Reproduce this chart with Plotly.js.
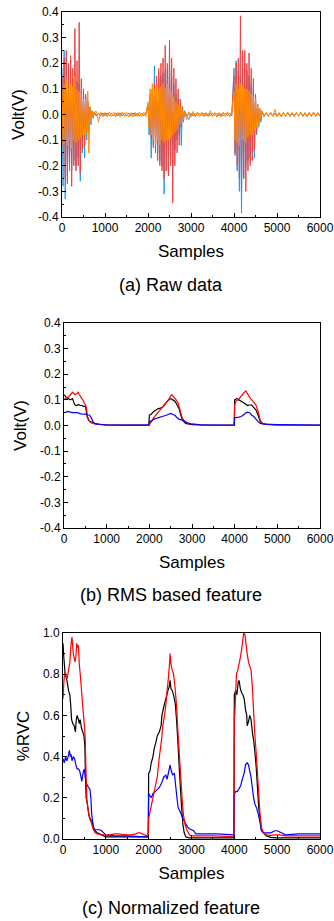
<!DOCTYPE html>
<html>
<head>
<meta charset="utf-8">
<script src="https://cdn.plot.ly/plotly-3.0.1.min.js"></script>
<style>html,body{margin:0;padding:0;background:#fff;}#chart{width:334px;height:921px;}</style>
</head>
<body>
<div id="chart"></div>
<script>
// ---------- (a) Raw data ----------
const rawX = [
  0,25,50,75,100,125,150,175,200,225,250,275,300,325,350,375,400,425,450,475,500,525,550,575,600,625,650,675,700,725,750,
  800,850,900,950,1000,1050,1100,1150,1200,1250,1300,1350,1400,1450,1500,1550,1600,1650,1700,1750,1800,1850,1900,1950,
  2000,2025,2050,2075,2100,2125,2150,2175,2200,2225,2250,2275,2300,2325,2350,2375,2400,2425,2450,2475,2500,2525,2550,2575,2600,2625,2650,2675,2700,2725,2750,2775,2800,2825,2850,
  2900,2950,3000,3050,3100,3150,3200,3250,3300,3350,3400,3450,3500,3550,3600,3650,3700,3750,3800,3850,3900,3950,
  4000,4025,4050,4075,4100,4125,4150,4175,4200,4225,4250,4275,4300,4325,4350,4375,4400,4425,4450,4475,4500,4525,4550,4575,4600,4625,4650,
  4700,4750,4800,4850,4900,4950,5000,5050,5100,5150,5200,5250,5300,5350,5400,5450,5500,5550,5600,5650,5700,5750,5800,5850,5900,5950,6000
];
const rawBlue = [
  0.18,-0.28,0.25,-0.33,0.22,-0.24,0.15,-0.2,0.18,-0.22,0.14,-0.18,0.16,-0.2,0.13,-0.17,0.12,-0.26,0.1,-0.15,0.09,-0.17,0.08,-0.1,0.05,-0.07,0.03,-0.04,0.015,-0.015,0.01,
  -0.006,0.005,-0.005,0.006,-0.004,0.005,-0.005,0.004,-0.006,0.005,-0.004,0.006,-0.005,0.004,-0.005,0.005,-0.004,0.006,-0.005,0.004,-0.006,0.005,-0.004,0.005,
  0.04,-0.08,0.06,-0.17,0.1,-0.12,0.19,-0.14,0.12,-0.15,0.14,-0.18,0.15,-0.2,0.16,-0.31,0.17,-0.22,0.18,-0.2,0.2,-0.18,0.15,-0.2,0.12,-0.14,0.08,-0.1,0.06,-0.08,0.04,-0.12,0.03,-0.03,0.015,
  -0.006,-0.02,0.005,-0.006,0.004,-0.005,0.005,-0.004,0.006,-0.005,0.004,-0.006,0.005,-0.004,0.005,-0.005,0.004,-0.006,0.005,-0.004,0.006,-0.005,
  0.18,-0.16,0.21,-0.22,0.17,-0.3,0.15,-0.385,0.18,-0.25,0.2,-0.2,0.17,-0.18,0.15,-0.17,0.12,-0.15,0.1,-0.17,0.07,-0.08,0.04,-0.05,0.02,-0.03,0.012,
  -0.006,0.005,-0.005,0.006,-0.004,0.005,-0.005,0.004,-0.006,0.005,-0.004,0.006,-0.005,0.004,-0.005,0.005,-0.004,0.006,-0.005,0.004,-0.006,0.005,-0.004,0.005,-0.005,0.004,-0.004
];
const rawRed = [
  0.15,-0.12,0.22,-0.25,0.25,-0.27,0.2,-0.22,0.23,-0.28,0.18,-0.2,0.335,-0.22,0.21,-0.2,0.36,-0.23,0.14,-0.14,0.1,-0.12,0.07,-0.07,0.05,-0.04,0.025,-0.02,0.012,-0.01,0.008,
  -0.004,0.004,-0.005,0.004,-0.004,0.005,-0.004,0.004,-0.005,0.004,-0.004,0.005,-0.004,0.004,-0.005,0.004,-0.004,0.005,-0.004,0.004,-0.005,0.004,-0.004,0.005,
  0.03,-0.04,0.08,-0.09,0.1,-0.13,0.12,-0.15,0.15,-0.18,0.18,-0.2,0.2,-0.22,0.22,-0.25,0.27,-0.22,0.2,-0.24,0.29,-0.2,0.22,-0.345,0.18,-0.2,0.14,-0.15,0.1,-0.12,0.06,-0.05,0.03,-0.02,0.012,
  -0.004,0.004,-0.005,0.004,-0.004,0.005,-0.004,0.004,-0.005,0.004,-0.004,0.005,-0.004,0.004,-0.005,0.004,-0.004,0.005,-0.004,0.004,-0.005,0.004,
  0.15,-0.15,0.2,-0.2,0.22,-0.25,0.385,-0.3,0.25,-0.25,0.25,-0.3,0.2,-0.22,0.24,-0.2,0.18,-0.18,0.14,-0.14,0.08,-0.07,0.04,-0.04,0.02,-0.02,0.01,
  -0.004,0.004,-0.005,0.004,-0.004,0.005,-0.004,0.004,-0.005,0.004,-0.004,0.005,-0.004,0.004,-0.005,0.004,-0.004,0.005,-0.004,0.004,-0.005,0.004,-0.004,0.005,-0.004,0.004,-0.004
];
const rawOrange = [
  0.1,-0.12,0.12,-0.1,0.14,-0.12,0.1,-0.1,0.12,-0.13,0.11,-0.1,0.15,-0.11,0.1,-0.1,0.09,-0.09,0.08,-0.08,0.06,-0.08,0.06,-0.07,0.09,-0.15,0.03,-0.03,0.015,-0.012,0.01,
  0.012,-0.03,0.01,-0.01,0.008,-0.009,0.01,-0.008,0.009,-0.01,0.008,-0.009,0.01,-0.008,0.009,-0.01,0.008,-0.01,0.009,-0.008,0.01,-0.009,0.008,-0.008,
  0.05,-0.05,0.1,-0.08,0.12,-0.1,0.1,-0.12,0.11,-0.1,0.1,-0.12,0.11,-0.1,0.12,-0.11,0.1,-0.1,0.12,-0.1,0.1,-0.09,0.09,-0.08,0.07,-0.07,0.05,-0.06,0.04,-0.04,0.03,-0.03,0.02,-0.02,0.012,
  -0.02,0.01,-0.01,0.012,-0.009,0.01,-0.008,0.009,-0.01,0.008,-0.009,0.015,-0.008,0.009,-0.01,0.008,-0.01,0.009,-0.008,0.01,-0.009,0.008,
  0.09,-0.1,0.12,-0.11,0.1,-0.12,0.12,-0.1,0.11,-0.1,0.1,-0.11,0.1,-0.09,0.09,-0.08,0.08,-0.08,0.07,-0.06,0.06,-0.05,0.04,-0.04,0.025,-0.02,0.015,
  -0.01,0.008,-0.009,0.01,-0.008,0.02,-0.009,0.008,-0.01,0.009,-0.008,0.01,-0.009,0.008,-0.01,0.009,-0.008,0.01,-0.009,0.008,-0.01,0.009,-0.008,0.01,-0.009,0.008,-0.008
];

// ---------- (b) RMS based feature ----------
const rmsBlackX = [0,30,60,100,150,200,230,260,300,340,380,420,460,500,520,540,580,620,680,750,850,1000,1500,1990,2000,2050,2100,2200,2300,2350,2400,2450,2500,2550,2600,2650,2700,2730,2780,2850,3000,3500,3990,4000,4050,4100,4150,4200,4250,4300,4350,4400,4450,4500,4550,4600,4650,4750,5000,6000];
const rmsBlackY = [0.12,0.115,0.108,0.105,0.1,0.105,0.09,0.08,0.078,0.082,0.078,0.078,0.075,0.075,0.06,0.035,0.02,0.015,0.01,0.006,0.004,0.002,0.001,0.001,0.04,0.045,0.055,0.065,0.07,0.08,0.09,0.1,0.105,0.1,0.095,0.08,0.065,0.045,0.02,0.008,0.003,0.001,0.001,0.1,0.105,0.1,0.095,0.09,0.085,0.078,0.08,0.08,0.07,0.06,0.04,0.015,0.008,0.004,0.002,0.001];
const rmsRedX = [0,50,100,150,200,230,260,300,330,360,400,440,480,510,530,550,600,650,720,800,1000,1500,1990,2000,2050,2100,2200,2300,2400,2450,2500,2530,2580,2630,2680,2720,2770,2820,2900,3000,3150,3200,3990,4000,4030,4080,4130,4180,4230,4260,4300,4350,4400,4450,4500,4550,4600,4650,4750,5000,6000];
const rmsRedY = [0.1,0.11,0.11,0.12,0.13,0.125,0.12,0.125,0.13,0.12,0.11,0.1,0.085,0.08,0.06,0.035,0.015,0.01,0.006,0.004,0.002,0.002,0.002,0.003,0.015,0.03,0.05,0.07,0.09,0.1,0.115,0.12,0.11,0.1,0.085,0.06,0.03,0.015,0.008,0.005,0.004,0.001,0.001,0.08,0.095,0.1,0.11,0.12,0.13,0.135,0.125,0.11,0.1,0.09,0.08,0.055,0.02,0.008,0.004,0.002,0.001];
const rmsBlueX = [0,50,100,150,200,300,350,400,450,500,550,600,640,680,720,800,900,1000,1500,1990,2000,2050,2100,2200,2300,2400,2450,2500,2550,2600,2650,2700,2750,2800,2850,2900,3000,3200,3990,4000,4050,4100,4150,4200,4250,4300,4350,4400,4450,4500,4550,4600,4700,5000,5500,6000];
const rmsBlueY = [0.05,0.052,0.055,0.052,0.05,0.05,0.048,0.045,0.044,0.045,0.042,0.04,0.03,0.015,0.008,0.005,0.004,0.002,0.002,0.002,0.015,0.018,0.024,0.03,0.035,0.04,0.044,0.047,0.043,0.04,0.03,0.024,0.022,0.02,0.015,0.01,0.005,0.003,0.002,0.03,0.032,0.033,0.035,0.04,0.048,0.052,0.05,0.04,0.035,0.025,0.015,0.008,0.005,0.004,0.003,0.002];

// ---------- (c) Normalized feature ----------
const normBlackX = [0,20,50,80,100,130,160,180,200,230,260,290,310,330,360,380,400,430,460,490,510,525,540,570,600,630,660,690,700,750,800,900,1000,1500,1990,2000,2030,2060,2100,2130,2170,2200,2250,2290,2310,2350,2400,2450,2480,2500,2520,2550,2580,2620,2650,2680,2710,2740,2770,2800,2830,2870,2950,3500,3990,4000,4030,4060,4090,4110,4140,4170,4200,4230,4260,4290,4300,4330,4360,4390,4420,4450,4480,4510,4540,4570,4600,4630,4680,4750,4850,5000,6000];
const normBlackY = [0.95,0.88,0.8,0.78,0.76,0.72,0.7,0.65,0.58,0.56,0.55,0.52,0.58,0.6,0.58,0.56,0.58,0.54,0.52,0.5,0.45,0.3,0.2,0.17,0.12,0.1,0.09,0.08,0.06,0.04,0.03,0.02,0.01,0.01,0.01,0.32,0.33,0.37,0.4,0.44,0.47,0.5,0.52,0.55,0.6,0.64,0.68,0.72,0.74,0.77,0.73,0.72,0.7,0.66,0.58,0.48,0.36,0.25,0.15,0.07,0.03,0.01,0.005,0.005,0.005,0.7,0.72,0.7,0.76,0.77,0.73,0.71,0.7,0.68,0.63,0.6,0.55,0.57,0.6,0.58,0.52,0.48,0.42,0.35,0.25,0.15,0.1,0.05,0.03,0.015,0.008,0.005,0.005];
const normRedX = [0,20,40,70,100,130,160,190,210,240,260,280,300,320,340,360,380,410,440,470,500,520,540,560,590,620,660,700,750,800,900,1000,1100,1200,1300,1400,1500,1600,1700,1750,1800,1850,1900,1990,2000,2030,2070,2100,2150,2200,2250,2300,2330,2370,2400,2430,2460,2490,2500,2520,2550,2580,2610,2650,2690,2720,2750,2780,2810,2850,2900,2950,3000,3500,3990,4000,4010,4030,4050,4080,4110,4140,4170,4200,4220,4250,4270,4300,4330,4360,4390,4420,4450,4480,4510,4540,4570,4600,4630,4670,4750,4850,4950,5050,5200,6000];
const normRedY = [0.68,0.76,0.81,0.79,0.78,0.82,0.86,0.95,0.98,0.9,0.88,0.86,0.88,0.95,0.93,0.94,0.85,0.78,0.7,0.62,0.55,0.48,0.3,0.18,0.14,0.1,0.08,0.05,0.03,0.025,0.02,0.02,0.02,0.025,0.025,0.022,0.02,0.02,0.025,0.03,0.03,0.025,0.02,0.015,0.1,0.13,0.17,0.2,0.25,0.3,0.4,0.48,0.55,0.6,0.65,0.72,0.78,0.86,0.9,0.85,0.82,0.8,0.75,0.65,0.5,0.4,0.3,0.2,0.12,0.07,0.04,0.02,0.015,0.015,0.012,0.62,0.6,0.7,0.8,0.82,0.85,0.88,0.92,0.97,1.0,0.99,0.95,0.9,0.86,0.84,0.82,0.74,0.62,0.5,0.42,0.32,0.22,0.12,0.06,0.03,0.02,0.018,0.02,0.02,0.015,0.015];
const normBlueX = [0,30,60,90,120,150,170,190,210,240,270,300,330,360,390,420,440,460,480,500,520,540,570,600,630,650,670,700,720,750,800,850,900,950,1000,1200,1500,1800,1990,2000,2030,2060,2100,2150,2200,2250,2300,2350,2400,2430,2460,2500,2530,2560,2600,2630,2660,2690,2720,2760,2800,2850,2900,2950,3000,3050,3100,3300,3600,3990,4000,4030,4070,4100,4150,4200,4230,4260,4300,4330,4360,4390,4420,4450,4480,4520,4560,4600,4630,4680,4750,4850,4950,5000,5100,5200,5500,6000];
const normBlueY = [0.39,0.37,0.4,0.38,0.4,0.43,0.4,0.41,0.38,0.4,0.39,0.36,0.34,0.34,0.33,0.3,0.28,0.31,0.33,0.34,0.3,0.27,0.26,0.25,0.24,0.2,0.12,0.07,0.05,0.045,0.045,0.045,0.04,0.03,0.02,0.015,0.015,0.012,0.01,0.22,0.21,0.2,0.22,0.23,0.24,0.25,0.27,0.3,0.31,0.29,0.32,0.36,0.33,0.31,0.32,0.26,0.2,0.15,0.14,0.12,0.1,0.08,0.06,0.05,0.045,0.04,0.025,0.025,0.025,0.02,0.22,0.23,0.23,0.24,0.26,0.3,0.32,0.36,0.37,0.36,0.33,0.3,0.25,0.2,0.17,0.15,0.12,0.08,0.04,0.03,0.03,0.03,0.04,0.04,0.03,0.02,0.025,0.025];

// ---------- tick labels ----------
const voltTicks = [-0.4,-0.3,-0.2,-0.1,0,0.1,0.2,0.3,0.4];
const voltLabels = ['-0.4','-0.3','-0.2','-0.1','0.0','0.1','0.2','0.3','0.4'];
const rvcTicks = [0,0.2,0.4,0.6,0.8,1.0];
const rvcLabels = ['0.0','0.2','0.4','0.6','0.8','1.0'];
const sampleTicks = [0,1000,2000,3000,4000,5000,6000];
const sampleLabels = ['0','1000','2000','3000','4000','5000','6000'];
const captions = ['(a) Raw data','(b) RMS based feature','(c) Normalized feature'];

// ---------- layout helpers ----------
const W = 334, H = 921;
const FONT = 'Liberation Sans, Arial, sans-serif';
function xd(l, r) { return [l / W, r / W]; }
function yd(t, b) { return [1 - b / H, 1 - t / H]; }

function xAxis(dom, anchor) {
  return {
    domain: dom, anchor: anchor, range: [0, 6000],
    tickvals: sampleTicks, ticktext: sampleLabels,
    ticks: 'inside', ticklen: 4, tickwidth: 1, tickcolor: '#000',
    ticklabeloverflow: 'allow',
    minor: { ticks: 'inside', ticklen: 2, tickwidth: 1, tickcolor: '#000', dtick: 500, tick0: 0 },
    showline: true, linecolor: '#000', linewidth: 1, mirror: true,
    showgrid: false, zeroline: false,
    tickfont: { family: FONT, size: 12, color: '#000' },
    title: { text: 'Samples', font: { family: FONT, size: 17, color: '#000' }, standoff: 10 },
    fixedrange: true
  };
}
function yAxis(dom, anchor, range, vals, labels, minorDtick, title) {
  return {
    domain: dom, anchor: anchor, range: range,
    tickvals: vals, ticktext: labels,
    ticks: 'inside', ticklen: 4, tickwidth: 1, tickcolor: '#000',
    ticklabeloverflow: 'allow',
    minor: { ticks: 'inside', ticklen: 2, tickwidth: 1, tickcolor: '#000', dtick: minorDtick, tick0: 0 },
    showline: true, linecolor: '#000', linewidth: 1, mirror: true,
    showgrid: false, zeroline: false,
    tickfont: { family: FONT, size: 12, color: '#000' },
    title: { text: title, font: { family: FONT, size: 17, color: '#000' }, standoff: 8 },
    fixedrange: true
  };
}

const lw = 1;
function rawLine(color) { return { color: color, width: lw, simplify: false }; }
function featLine(color) { return { color: color, width: 1.2, simplify: false }; }
const data = [
  { x: rawX, y: rawBlue, xaxis: 'x', yaxis: 'y', type: 'scatter', mode: 'lines', line: rawLine('#1E9BEA') },
  { x: rawX, y: rawRed, xaxis: 'x', yaxis: 'y', type: 'scatter', mode: 'lines', line: rawLine('#EE4444') },
  { x: rawX, y: rawOrange, xaxis: 'x', yaxis: 'y', type: 'scatter', mode: 'lines', line: rawLine('#FF8C00') },

  { x: rmsBlackX, y: rmsBlackY, xaxis: 'x2', yaxis: 'y2', type: 'scatter', mode: 'lines', line: featLine('#000000') },
  { x: rmsRedX, y: rmsRedY, xaxis: 'x2', yaxis: 'y2', type: 'scatter', mode: 'lines', line: featLine('#FF0000') },
  { x: rmsBlueX, y: rmsBlueY, xaxis: 'x2', yaxis: 'y2', type: 'scatter', mode: 'lines', line: featLine('#0000FF') },

  { x: normBlackX, y: normBlackY, xaxis: 'x3', yaxis: 'y3', type: 'scatter', mode: 'lines', line: featLine('#000000') },
  { x: normBlueX, y: normBlueY, xaxis: 'x3', yaxis: 'y3', type: 'scatter', mode: 'lines', line: featLine('#0000FF') },
  { x: normRedX, y: normRedY, xaxis: 'x3', yaxis: 'y3', type: 'scatter', mode: 'lines', line: featLine('#FF0000') }
];

const layout = {
  width: W, height: H,
  margin: { l: 0, r: 0, t: 0, b: 0 },
  paper_bgcolor: '#fff', plot_bgcolor: '#fff',
  showlegend: false,
  font: { family: FONT, color: '#000' },
  xaxis: xAxis(xd(62, 320), 'y'),
  yaxis: yAxis(yd(12, 217), 'x', [-0.4, 0.4], voltTicks, voltLabels, 0.05, 'Volt(V)'),
  xaxis2: xAxis(xd(64, 320), 'y2'),
  yaxis2: yAxis(yd(323, 528), 'x2', [-0.4, 0.4], voltTicks, voltLabels, 0.05, 'Volt(V)'),
  xaxis3: xAxis(xd(63, 320), 'y3'),
  yaxis3: yAxis(yd(633, 839), 'x3', [0, 1], rvcTicks, rvcLabels, 0.1, '%RVC'),
  annotations: [
    { text: captions[0], xref: 'paper', yref: 'paper', x: 171 / W, y: 1 - 285 / H, xanchor: 'center', yanchor: 'middle', showarrow: false, font: { family: FONT, size: 18, color: '#000' } },
    { text: captions[1], xref: 'paper', yref: 'paper', x: 171 / W, y: 1 - 595 / H, xanchor: 'center', yanchor: 'middle', showarrow: false, font: { family: FONT, size: 18, color: '#000' } },
    { text: captions[2], xref: 'paper', yref: 'paper', x: 171 / W, y: 1 - 908 / H, xanchor: 'center', yanchor: 'middle', showarrow: false, font: { family: FONT, size: 18, color: '#000' } }
  ]
};

Plotly.newPlot('chart', data, layout, { staticPlot: true, displayModeBar: false });
</script>
</body>
</html>
